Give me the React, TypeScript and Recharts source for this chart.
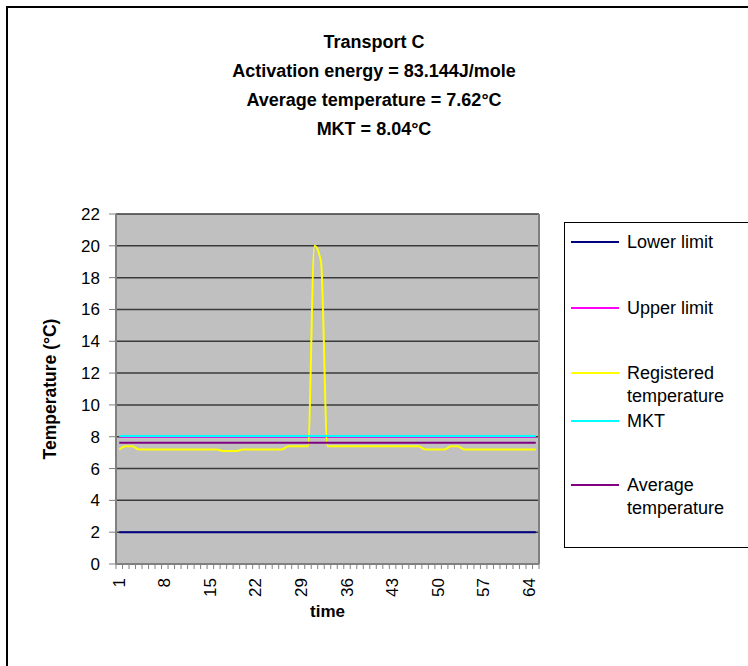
import { LineChart, Line, XAxis, YAxis, CartesianGrid, ReferenceLine, Legend, Label } from "recharts"

// time steps (category axis)
const timeSteps = [
  1, 2, 3, 4, 5, 6, 7, 8, 9, 10, 11, 12, 13, 14, 15, 16, 17, 18, 19, 20, 21, 22,
  23, 24, 25, 26, 27, 28, 29, 30, 31, 32, 33, 34, 35, 36, 37, 38, 39, 40, 41, 42,
  43, 44, 45, 46, 47, 48, 49, 50, 51, 52, 53, 54, 55, 56, 57, 58, 59, 60, 61, 62,
  63, 64, 65,
]

// registered temperature (°C)
const registeredTemp = [
  7.2, 7.4, 7.4, 7.2, 7.2, 7.2, 7.2, 7.2, 7.2, 7.2, 7.2, 7.2, 7.2, 7.2, 7.2, 7.2,
  7.1, 7.1, 7.1, 7.2, 7.2, 7.2, 7.2, 7.2, 7.2, 7.2, 7.4, 7.4, 7.4, 7.4, 20, 19,
  7.4, 7.4, 7.4, 7.4, 7.4, 7.4, 7.4, 7.4, 7.4, 7.4, 7.4, 7.4, 7.4, 7.4, 7.4, 7.2,
  7.2, 7.2, 7.2, 7.4, 7.4, 7.2, 7.2, 7.2, 7.2, 7.2, 7.2, 7.2, 7.2, 7.2, 7.2, 7.2,
  7.2,
]

const lowerLimit = 2
const upperLimit = 8
const mktValue = 8.04
const averageTemp = 7.62

const yTicks = [0, 2, 4, 6, 8, 10, 12, 14, 16, 18, 20, 22]
const xLabelSteps = [1, 8, 15, 22, 29, 36, 43, 50, 57, 64]

const titleLines = [
  "Transport C",
  "Activation energy = 83.144J/mole",
  "Average temperature = 7.62°C",
  "MKT = 8.04°C",
]

const series = [
  { key: "lower", name: "Lower limit", color: "#000080" },
  { key: "upper", name: "Upper limit", color: "#FF00FF" },
  { key: "registered", name: "Registered temperature", color: "#FFFF00" },
  { key: "mkt", name: "MKT", color: "#00FFFF" },
  { key: "average", name: "Average temperature", color: "#800080" },
]

const data = timeSteps.map((t, i) => ({
  t,
  lower: lowerLimit,
  upper: upperLimit,
  registered: registeredTemp[i],
  mkt: mktValue,
  average: averageTemp,
}))

const FONT = "'Liberation Sans', Arial, sans-serif"
const W = 748
const H = 666
const PLOT_LEFT = 116
const PLOT_RIGHT = 539
const PLOT_TOP = 214
const PLOT_BOTTOM = 564
const bandWidth = (PLOT_RIGHT - PLOT_LEFT) / timeSteps.length

// legend line centers, relative to the legend box top
const legendRowY = [19, 85, 150, 198, 262]
const LEGEND_LH = 23

function TimeTick(props: any) {
  const { x, y, payload, index } = props
  const bx = x - bandWidth / 2
  const isLast = index === timeSteps.length - 1
  const showLabel = xLabelSteps.includes(payload.value)
  const ly = y + 14
  return (
    <g>
      <line x1={bx} x2={bx} y1={y} y2={y + 5} stroke="#808080" strokeWidth={1} />
      {isLast && <line x1={x + bandWidth / 2} x2={x + bandWidth / 2} y1={y} y2={y + 5} stroke="#808080" strokeWidth={1} />}
      {showLabel && (
        <text
          x={x}
          y={ly}
          transform={`rotate(-90 ${x} ${ly})`}
          textAnchor="end"
          dominantBaseline="central"
          fontSize={17}
          fontFamily={FONT}
          fill="#000"
        >
          {payload.value}
        </text>
      )}
    </g>
  )
}

function LegendBox() {
  return (
    <div
      style={{
        position: "relative",
        width: 200,
        height: 324,
        border: "1px solid #000",
        background: "#fff",
        fontFamily: FONT,
        fontSize: 18,
        color: "#000",
      }}
    >
      {series.map((s, i) => (
        <div
          key={s.key}
          style={{ position: "absolute", left: 6, top: legendRowY[i] - LEGEND_LH / 2, display: "flex" }}
        >
          <div style={{ width: 48, height: 2, background: s.color, marginTop: LEGEND_LH / 2 - 1, marginRight: 8 }} />
          <div style={{ width: 126, lineHeight: `${LEGEND_LH}px` }}>{s.name}</div>
        </div>
      ))}
    </div>
  )
}

export default function App() {
  return (
    <div style={{ position: "fixed", left: 0, top: 0, width: W, height: H, overflow: "hidden", background: "#fff" }}>
      {/* chart area frame (right and bottom edges fall outside the picture) */}
      <div
        style={{
          position: "absolute",
          left: 6,
          top: 6,
          width: 800,
          height: 800,
          borderLeft: "2px solid #000",
          borderTop: "2px solid #000",
        }}
      />
      <div
        style={{
          position: "absolute",
          left: 0,
          top: 28,
          width: 748,
          textAlign: "center",
          fontFamily: FONT,
          fontWeight: "bold",
          fontSize: 18,
          lineHeight: "29px",
          color: "#000",
        }}
      >
        {titleLines.map((line) => (
          <div key={line}>{line}</div>
        ))}
      </div>
      <div style={{ position: "absolute", left: 0, top: 0 }}>
        <LineChart
          width={W}
          height={H}
          data={data}
          margin={{ top: PLOT_TOP, right: W - PLOT_RIGHT, bottom: 0, left: 0 }}
        >
          <CartesianGrid horizontal vertical={false} fill="#C0C0C0" stroke="#3a3a3a" strokeWidth={1.5} />
          <XAxis
            dataKey="t"
            type="number"
            domain={[0.5, 65.5]}
            ticks={timeSteps}
            interval={0}
            height={H - PLOT_BOTTOM}
            tickSize={0}
            tickMargin={0}
            tickLine={false}
            tick={<TimeTick />}
            axisLine={{ stroke: "#808080", strokeWidth: 2 }}
            label={{ value: "time", position: "insideTop", offset: 41, fontSize: 17, fontWeight: "bold", fill: "#000", fontFamily: FONT }}
          />
          <YAxis
            type="number"
            domain={[0, 22]}
            ticks={yTicks}
            interval={0}
            width={PLOT_LEFT}
            tickSize={7}
            tickMargin={9}
            tickLine={{ stroke: "#808080" }}
            axisLine={{ stroke: "#808080", strokeWidth: 2 }}
            tick={{ fontSize: 17, fill: "#000", fontFamily: FONT }}
          >
            <Label
              content={(p: any) => {
                const vb = p.viewBox || { x: 0, y: PLOT_TOP, height: PLOT_BOTTOM - PLOT_TOP }
                const cx = vb.x + 50
                const cy = vb.y + vb.height / 2
                return (
                  <text
                    x={cx}
                    y={cy}
                    transform={`rotate(-90 ${cx} ${cy})`}
                    textAnchor="middle"
                    dominantBaseline="central"
                    fontSize={17.5}
                    fontWeight="bold"
                    fontFamily={FONT}
                    fill="#000"
                  >
                    Temperature (°C)
                  </text>
                )
              }}
            />
          </YAxis>
          <ReferenceLine x={65.5} stroke="#808080" strokeWidth={2} />
          <Legend
            layout="vertical"
            align="center"
            verticalAlign="middle"
            content={<LegendBox />}
            wrapperStyle={{ left: 564, top: 222, width: 200, height: 326 }}
          />
          {series.map((s) => (
            <Line
              key={s.key}
              dataKey={s.key}
              name={s.name}
              type={s.key === "registered" ? "monotone" : "linear"}
              stroke={s.color}
              strokeWidth={2}
              dot={false}
              isAnimationActive={false}
            />
          ))}
        </LineChart>
      </div>
    </div>
  )
}
